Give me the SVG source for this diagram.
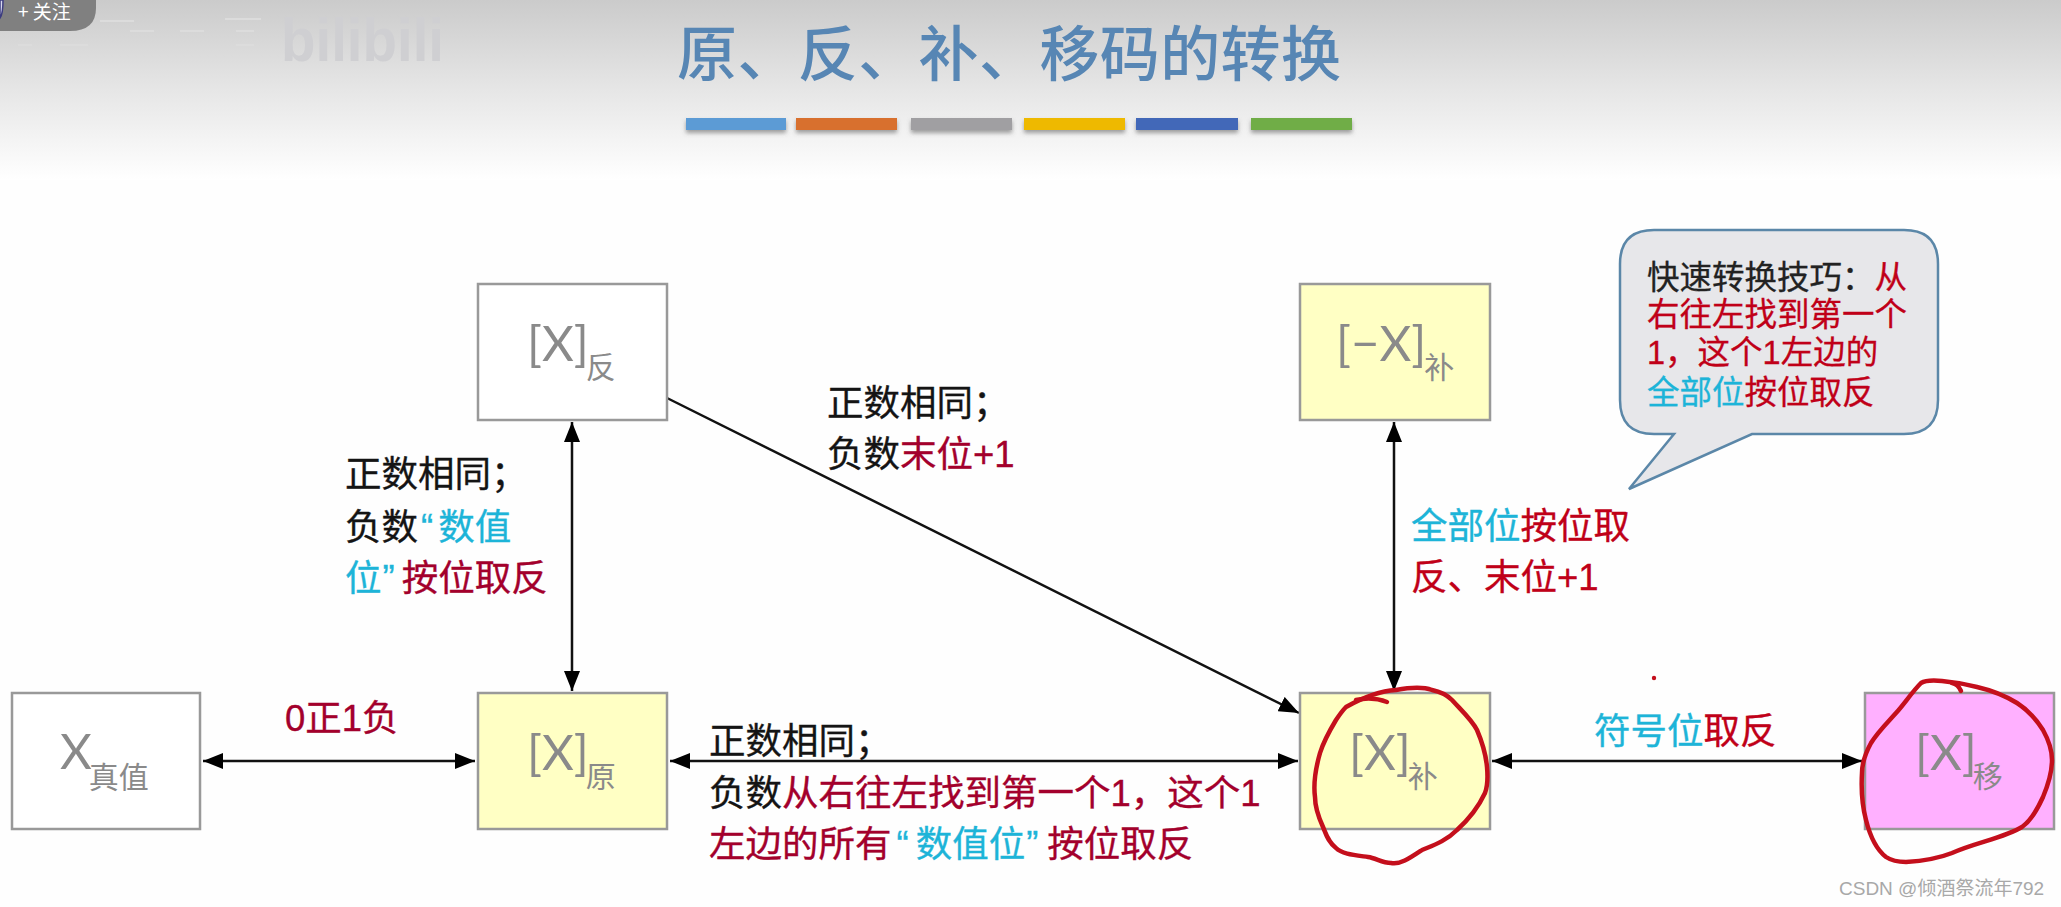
<svg xmlns="http://www.w3.org/2000/svg" width="2061" height="907" viewBox="0 0 2061 907">
<style>
text{font-family:"Liberation Sans","Noto Sans CJK SC",sans-serif}
.box{stroke:#999;stroke-width:2.5}
.w{fill:#fff}.y{fill:#ffffc4}.m{fill:#ffb0ff}
.big{font-family:Lato,"Noto Sans CJK SC",sans-serif;font-weight:400;font-size:49px;fill:#8a8a8a}
.sub{font-family:"Noto Sans CJK SC",sans-serif;font-weight:400;font-size:30px}
.lab{font-size:36.5px;fill:#141414;stroke:#141414;stroke-width:.35}
.r{fill:#a3002c;stroke:#a3002c}.c{fill:#1db4d8;stroke:#1db4d8}.b{fill:#c00018;stroke:#c00018}
.call{font-size:32.5px;fill:#222;stroke:#222;stroke-width:.3}
.conn{stroke:#111;stroke-width:2.5;fill:none;marker-start:url(#a);marker-end:url(#a)}
.red{fill:none;stroke:#c40f1c;stroke-width:4.5;stroke-linecap:round;stroke-linejoin:round}
</style>
<defs>
<linearGradient id="bg" x1="0" y1="0" x2="0" y2="1"><stop offset="0" stop-color="#cbcbcb"/><stop offset=".5" stop-color="#e6e6e6"/><stop offset="1" stop-color="#fff"/></linearGradient>
<marker id="a" viewBox="0 0 20 16" refX="20" refY="8" markerWidth="20" markerHeight="16" markerUnits="userSpaceOnUse" orient="auto-start-reverse"><path d="M0 0L20 8L0 16Z" fill="#000"/></marker>
<filter id="sh" x="-5%" y="-30%" width="110%" height="190%"><feDropShadow dx="0" dy="3" stdDeviation="2" flood-color="#555" flood-opacity=".55"/></filter>
</defs>
<rect width="2061" height="907" fill="#fefefe"/>
<rect id="header" width="2061" height="180" fill="url(#bg)"/>
<g id="faint" fill="#dcdcdc">
<rect x="100" y="20" width="34" height="2"/><rect x="60" y="44" width="28" height="2"/><rect x="18" y="44" width="14" height="2"/><rect x="18" y="56" width="14" height="2"/>
<rect x="130" y="30" width="24" height="2"/><rect x="180" y="30" width="24" height="2"/><rect x="225" y="18" width="36" height="2"/><rect x="236" y="30" width="18" height="2"/><rect x="236" y="44" width="18" height="2"/><rect x="236" y="56" width="18" height="2"/>
</g>
<g id="badge">
<path d="M0 0H96V8Q96 31 70 31H0Z" fill="#808080"/>
<path d="M0 0H3Q3 14 0 18Z" fill="#d8d8ee" stroke="#3c3c80" stroke-width="1.5"/>
<text x="18" y="19" font-size="19" fill="#fff" style="font-family:'Noto Sans CJK SC',sans-serif">+ 关注</text>
</g>
<text id="logo" x="281" y="61" font-size="62" font-weight="700" fill="#cfcfd2" textLength="163" lengthAdjust="spacingAndGlyphs">bilibili</text>
<text id="title" x="677" y="76" font-size="60" font-weight="500" fill="#5786b4" style="font-family:'Noto Sans CJK SC',sans-serif" textLength="664">原、反、补、移码的转换</text>
<g id="bars" filter="url(#sh)">
<rect x="686" y="118" width="100" height="12" fill="#5b9bd5"/>
<rect x="796" y="118" width="101" height="12" fill="#d86f2d"/>
<rect x="911" y="118" width="101" height="12" fill="#a09fa2"/>
<rect x="1024" y="118" width="101" height="12" fill="#eeb900"/>
<rect x="1136" y="118" width="102" height="12" fill="#4268b8"/>
<rect x="1251" y="118" width="101" height="12" fill="#70ad47"/>
</g>
<g id="connectors">
<line class="conn" x1="203" y1="761" x2="475" y2="761"/>
<line class="conn" x1="670" y1="761" x2="1298" y2="761"/>
<line class="conn" x1="1492" y1="761" x2="1862" y2="761"/>
<line class="conn" x1="572" y1="422" x2="572" y2="691"/>
<line class="conn" x1="1394" y1="422" x2="1394" y2="691"/>
<line class="conn" x1="667" y1="398" x2="1299" y2="713" style="marker-start:none"/>
</g>
<g id="node-true"><rect class="box w" x="12" y="693" width="188" height="136"/><text class="big" x="60" y="769">X<tspan class="sub" dx="-3" dy="19">真值</tspan></text></g>
<g id="node-orig"><rect class="box y" x="478" y="693" width="189" height="136"/><text class="big" x="527" y="770">[X]<tspan class="sub" dx="-3" dy="17">原</tspan></text></g>
<g id="node-inv"><rect class="box w" x="478" y="284" width="189" height="136"/><text class="big" x="527" y="361">[X]<tspan class="sub" dx="-3" dy="17">反</tspan></text></g>
<g id="node-comp"><rect class="box y" x="1300" y="693" width="190" height="136"/><text class="big" x="1349" y="770">[X]<tspan class="sub" dx="-3" dy="17">补</tspan></text></g>
<g id="node-negcomp"><rect class="box y" x="1300" y="284" width="190" height="136"/><text class="big" x="1336" y="361">[−X]<tspan class="sub" dx="-2" dy="17">补</tspan></text></g>
<g id="node-biased"><rect class="box m" x="1865" y="693" width="189" height="136"/><text class="big" x="1915" y="770">[X]<tspan class="sub" dx="-4" dy="17">移</tspan></text></g>
<g id="labels">
<text class="lab" x="285" y="731"><tspan class="r">0正1负</tspan></text>
<text class="lab" x="345" y="487">正数相同；</text>
<text class="lab" x="345" y="540">负数<tspan class="c" dx="3">“</tspan><tspan class="c" dx="5">数值</tspan></text>
<text class="lab" x="345" y="591"><tspan class="c">位</tspan><tspan class="c" dx="1">”</tspan><tspan class="r" dx="7">按位取反</tspan></text>
<text class="lab" x="827" y="416">正数相同；</text>
<text class="lab" x="827" y="467">负数<tspan class="r">末位+1</tspan></text>
<text class="lab" x="709" y="754">正数相同；</text>
<text class="lab" x="709" y="806">负数<tspan class="r">从右往左找到第一个1，这个1</tspan></text>
<text class="lab" x="709" y="857"><tspan class="r">左边的所有</tspan><tspan class="c" dx="5">“</tspan><tspan class="c" dx="7">数值位</tspan><tspan class="c" dx="1">”</tspan><tspan class="r" dx="9">按位取反</tspan></text>
<text class="lab" x="1411" y="539"><tspan class="c">全部位</tspan><tspan class="b">按位取</tspan></text>
<text class="lab" x="1411" y="590"><tspan class="b">反、末位+1</tspan></text>
<text class="lab" x="1594" y="744"><tspan class="c">符号位</tspan><tspan class="b">取反</tspan></text>
</g>
<g id="callout">
<path d="M1654 230H1904Q1938 230 1938 264V400Q1938 434 1904 434H1752L1629 489L1674 434H1654Q1620 434 1620 400V264Q1620 230 1654 230Z" fill="#e7e7ea" stroke="#5b87a8" stroke-width="2.5"/>
<text class="call" x="1647" y="289">快速转换技巧：<tspan class="b">从</tspan></text>
<text class="call" x="1647" y="326"><tspan class="b">右往左找到第一个</tspan></text>
<text class="call" x="1647" y="364"><tspan class="b">1，这个1左边的</tspan></text>
<text class="call" x="1647" y="404"><tspan class="c">全部位</tspan><tspan class="b">按位取反</tspan></text>
</g>
<g id="ink">
<path class="red" d="M1346 707C1362 698 1380 691 1396 690C1412 687 1424 687 1432 690C1442 692 1447 695 1452 700C1463 712 1472 720 1477 730C1483 744 1486 756 1487 767C1488 778 1488 785 1485 793C1478 808 1468 820 1457 830C1446 841 1434 845 1422 850C1410 858 1400 865 1391 863C1382 863 1376 858 1368 857C1354 855 1342 854 1336 848C1328 842 1326 834 1323 827C1318 816 1315 806 1315 797C1313 782 1316 767 1320 753C1324 740 1330 730 1336 720C1340 714 1343 710 1346 707Z"/>
<path class="red" d="M1356 700Q1372 696 1387 702"/>
<path class="red" d="M1942 681C1932 680 1926 680 1921 683C1912 692 1905 703 1896 713C1886 724 1877 733 1871 743C1865 754 1862 764 1862 773C1861 790 1862 805 1866 820C1870 836 1877 850 1886 857C1892 861 1899 862 1906 862C1922 861 1937 859 1952 853C1977 842 2004 838 2022 827C2032 820 2038 808 2043 797C2048 785 2052 772 2052 760C2052 749 2048 739 2043 730C2036 719 2028 710 2017 703C2004 695 1990 690 1977 687C1965 684 1953 682 1942 681Z"/>
<path class="red" d="M1952 683Q1958 684 1961 691"/>
<circle cx="1654" cy="678" r="2.2" fill="#c40f1c"/>
</g>
<text id="watermark" x="1839" y="895" font-size="19" fill="#a8a8a8">CSDN @倾酒祭流年792</text>
</svg>
